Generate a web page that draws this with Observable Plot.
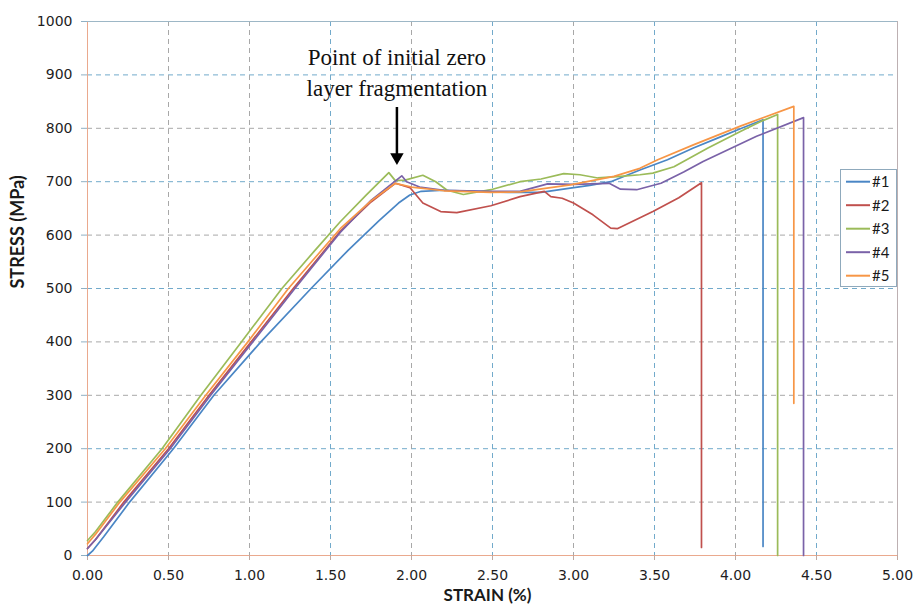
<!DOCTYPE html>
<html><head><meta charset="utf-8">
<script src="https://cdn.jsdelivr.net/npm/d3@7"></script>
<script src="https://cdn.jsdelivr.net/npm/@observablehq/plot@0.6"></script>
<style>
body{margin:0;background:#fff;}
#wrap{position:relative;width:916px;height:605px;overflow:hidden;}
#legend{position:absolute;left:840px;top:169px;}
</style></head><body><div id="wrap"></div>
<script>
const seriesNames = ["#1","#2","#3","#4","#5"];
const seriesColors = ["#4a86c5","#c0504d","#9bbb59","#7a62a8","#f79646"];

const s1 = [[0,0],[0.03,8],[0.1,35],[0.26,100],[0.53,200],[0.78,300],[1.07,400],[1.38,500],[1.61,572],[1.80,627],[1.92,660],[1.99,675],[2.06,682],[2.2,684],[2.4,682],[2.6,680],[2.8,680],[2.98,688],[3.1,693],[3.23,700],[3.41,722],[3.58,741],[3.74,763],[3.9,783],[4.03,799],[4.17,816],[4.17,17]];
const s2 = [[0,13],[0.05,30],[0.224,100],[0.5,200],[0.75,300],[1.01,400],[1.27,500],[1.56,607],[1.75,662],[1.90,697],[1.99,689],[2.07,660],[2.18,644],[2.28,642],[2.49,655],[2.67,672],[2.82,682],[2.86,672],[2.93,669],[3.0,660],[3.12,638],[3.23,613],[3.27,612],[3.49,644],[3.65,670],[3.79,698],[3.79,15]];
const s3 = [[0,28],[0.05,45],[0.187,100],[0.46,200],[0.70,300],[0.95,400],[1.20,500],[1.40,570],[1.56,625],[1.72,675],[1.86,717],[1.90,702],[1.96,703],[2.07,712],[2.15,700],[2.22,684],[2.32,676],[2.49,685],[2.67,700],[2.80,705],[2.94,715],[3.04,713],[3.15,707],[3.29,710],[3.41,713],[3.49,716],[3.62,728],[3.83,763],[4.03,794],[4.15,812],[4.26,826],[4.26,0]];
const s4 = [[0,13],[0.05,30],[0.235,100],[0.51,200],[0.76,300],[1.02,400],[1.28,500],[1.56,605],[1.75,665],[1.94,711],[1.97,700],[2.05,690],[2.2,684],[2.49,682],[2.67,682],[2.84,696],[3.0,695],[3.22,697],[3.29,686],[3.39,685],[3.54,697],[3.68,718],[3.80,738],[4.13,785],[4.42,820],[4.42,0]];
const s5 = [[0,22],[0.05,40],[0.2,100],[0.48,200],[0.73,300],[0.99,400],[1.24,500],[1.56,612],[1.75,664],[1.90,697],[2.0,690],[2.2,683],[2.49,680],[2.67,681],[2.98,694],[3.25,710],[3.41,725],[3.52,741],[3.74,769],[4.03,804],[4.36,841],[4.36,285]];

const xTicks = [0,0.5,1,1.5,2,2.5,3,3.5,4,4.5,5];
const yTicks = [0,100,200,300,400,500,600,700,800,900,1000];
const xTitle = "STRAIN (%)";
const yTitle = "STRESS (MPa)";
const annotationLines = ["Point of initial zero","layer fragmentation"];
const annotation = {x: 1.91, y: 909};
const arrow = {x: 1.91, yTop: 839, yTip: 740, yHead: 746};

const series = [s1,s2,s3,s4,s5];
const data = series.flatMap((pts,i)=>pts.map(([x,y])=>({x,y,name:seriesNames[i]})));

const blueY = [200,500,700,900];
const greyY = yTicks.filter(v=>v>0 && v<1000 && !blueY.includes(v));
const blueX = [1.5,2.5,3.5,4.5];
const greyX = xTicks.filter(v=>v>0 && v<5 && !blueX.includes(v));
const dash = "5,4";

const plot = Plot.plot({
  width:916, height:605,
  marginLeft:87, marginRight:19, marginTop:21, marginBottom:50,
  x:{domain:[0,5]}, y:{domain:[0,1000]},
  color:{domain:seriesNames, range:seriesColors},
  style:{fontFamily:"DejaVu Sans", fontSize:"14px", color:"#1e1e1e", background:"#fff"},
  marks:[
    Plot.ruleY(greyY,{stroke:"#a8a8a8", strokeDasharray:dash, strokeWidth:1}),
    Plot.ruleY(blueY,{stroke:"#72aacb", strokeDasharray:dash, strokeWidth:1}),
    Plot.ruleX(greyX,{stroke:"#a8a8a8", strokeDasharray:dash, strokeWidth:1}),
    Plot.ruleX(blueX,{stroke:"#72aacb", strokeDasharray:dash, strokeWidth:1}),
    Plot.ruleX([0],{stroke:"#eaa98e"}),
    Plot.ruleX([5],{stroke:"#bdb0b2"}),
    Plot.ruleY([0],{stroke:"#eaa98e"}),
    Plot.ruleY([1000],{stroke:"#9db7c6"}),
    Plot.axisY({ticks:yTicks, tickSize:6, tickPadding:9, stroke:"#8fb0c4", tickFormat:d3.format("d"), label:null, fontSize:14}),
    Plot.axisX({ticks:xTicks, tickSize:5, tickPadding:10, stroke:"#c0a8a0", tickFormat:d3.format(".2f"), label:null, fontSize:14}),
    Plot.line(data,{x:"x", y:"y", z:"name", stroke:"name", strokeWidth:1.7}),
    Plot.text([annotation],{x:"x", y:"y", text:()=>annotationLines.join("\n"), fontFamily:"Liberation Serif", fontSize:23, lineHeight:1.35, fill:"#111"}),
    Plot.ruleX([arrow],{x:"x", y1:"yTip", y2:"yTop", stroke:"#000", strokeWidth:2.5}),
    Plot.dot([arrow],{x:"x", y:"yHead", symbol:"triangle", rotate:180, r:5, fill:"#000", stroke:null}),
    Plot.text([yTitle],{text:d=>d, frameAnchor:"left", dx:-69, rotate:-90, fontWeight:"bold", fontSize:18, fontFamily:"Lato", fill:"#1a1a1a"}),
    Plot.text([xTitle],{text:d=>d, frameAnchor:"bottom", dx:-5, dy:45, fontWeight:"bold", fontSize:17, fontFamily:"Lato", fill:"#1a1a1a"})
  ]
});
const wrap = document.getElementById("wrap");
wrap.appendChild(plot);

// legend overlay
const lw = 57, lh = 118;
const leg = d3.create("svg").attr("id","legend").attr("width",lw).attr("height",lh);
leg.append("rect").attr("x",0.5).attr("y",0.5).attr("width",lw-1).attr("height",lh-1).attr("fill","#fff").attr("stroke","#8fa9bc");
seriesNames.forEach((n,i)=>{
  const cy = 12.7 + i*23.5;
  leg.append("line").attr("x1",6).attr("x2",30).attr("y1",cy).attr("y2",cy).attr("stroke",seriesColors[i]).attr("stroke-width",2);
  leg.append("text").attr("x",32).attr("y",cy).attr("dy","0.36em").attr("font-family","Lato").attr("font-size",15).attr("fill","#1a1a1a").text(n);
});
wrap.appendChild(leg.node());
</script>
</body></html>
